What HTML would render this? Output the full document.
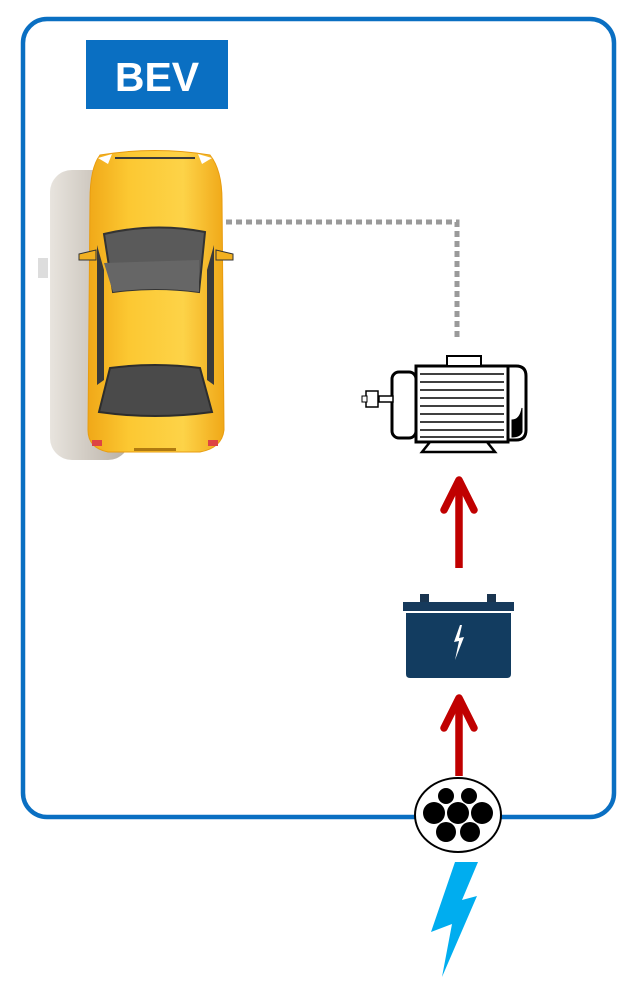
<!DOCTYPE html>
<html><head><meta charset="utf-8"><style>
html,body{margin:0;padding:0;background:#fff;width:632px;height:1000px;overflow:hidden}
svg{display:block}
</style></head><body>
<svg width="632" height="1000" viewBox="0 0 632 1000" xmlns="http://www.w3.org/2000/svg">
<defs>
<linearGradient id="sh" x1="0" x2="1"><stop offset="0" stop-color="#e8e4de"/><stop offset="1" stop-color="#b7afa4"/></linearGradient>
<linearGradient id="body" x1="0" x2="1"><stop offset="0" stop-color="#f0a818"/><stop offset="0.3" stop-color="#fcc832"/><stop offset="0.7" stop-color="#fdd348"/><stop offset="1" stop-color="#f0a818"/></linearGradient>
</defs>
<rect x="23" y="19" width="591" height="798" rx="24" fill="none" stroke="#0a6fc2" stroke-width="4.5"/>
<rect x="86" y="40" width="142" height="69" fill="#0a6fc2"/>
<text x="157" y="91" text-anchor="middle" font-family="Liberation Sans, sans-serif" font-weight="bold" font-size="41" fill="#fff">BEV</text>
<path d="M226 222 H457 V340" fill="none" stroke="#9a9a9a" stroke-width="5" stroke-dasharray="6 4"/>
<rect x="50" y="170" width="80" height="290" rx="22" fill="url(#sh)"/>
<rect x="38" y="258" width="10" height="20" fill="#ddd"/>
<path d="M100 155 Q155 146 210 155 Q222 170 222 200 L224 430 Q222 448 200 452 L108 452 Q88 448 88 430 L90 200 Q90 168 100 155Z" fill="url(#body)" stroke="#e89c10" stroke-width="1"/>
<path d="M98 158 L112 154 L108 164 Z M212 158 L198 154 L202 164 Z" fill="#fff"/>
<path d="M115 158 H195" stroke="#3a3a3a" stroke-width="2"/>
<path d="M104 234 Q155 222 205 232 L199 292 Q155 286 113 292 Z" fill="#5a5a5a" stroke="#333" stroke-width="2"/>
<path d="M104 263 L199 260 L199 292 Q155 286 113 292 Z" fill="#666"/>
<path d="M97 245 L97 385 L104 380 L104 270 Z M214 245 L214 385 L207 380 L207 270 Z" fill="#3a3a3a"/>
<path d="M79 254 L96 250 L96 260 L79 260Z M233 254 L216 250 L216 260 L233 260Z" fill="#f2b020" stroke="#333" stroke-width="1"/>
<path d="M110 368 Q155 362 200 368 L212 412 Q155 420 99 412 Z" fill="#4a4a4a" stroke="#2d2d2d" stroke-width="2"/>
<rect x="92" y="440" width="10" height="6" fill="#d44"/><rect x="208" y="440" width="10" height="6" fill="#d44"/>
<rect x="134" y="448" width="42" height="3" fill="#b07a10"/>
<g stroke="#000" fill="#fff">
<rect x="392" y="372" width="24" height="66" rx="7" stroke-width="3"/>
<rect x="416" y="366" width="92" height="76" stroke-width="3"/>
<path d="M508 366 H516 Q526 366 526 376 V430 Q526 440 516 440 H508 Z" stroke-width="3"/>
<path d="M512 420 Q520 420 522 408 V432 Q520 437 512 437Z" fill="#000" stroke-width="1"/>
<rect x="447" y="356" width="34" height="10" stroke-width="2"/>
<rect x="379" y="396" width="14" height="6" stroke-width="1.5"/>
<rect x="366" y="391" width="12" height="16" stroke-width="1.5"/>
<rect x="362" y="396" width="5" height="6" stroke-width="1"/>
<path d="M430 442 L422 452 H495 L487 442Z" stroke-width="2.5"/>
</g>
<g stroke="#000" stroke-width="1.5">
<line x1="420" y1="374" x2="504" y2="374"/><line x1="420" y1="382" x2="504" y2="382"/><line x1="420" y1="390" x2="504" y2="390"/><line x1="420" y1="398" x2="504" y2="398"/><line x1="420" y1="406" x2="504" y2="406"/><line x1="420" y1="414" x2="504" y2="414"/><line x1="420" y1="422" x2="504" y2="422"/><line x1="420" y1="430" x2="504" y2="430"/><line x1="420" y1="437" x2="504" y2="437"/>
</g>
<g stroke="#c00000" stroke-width="7.5" fill="none" stroke-linejoin="round">
<path d="M459 568 V482"/><path d="M444 510 L459 480 L474 510" stroke-linecap="round"/>
<path d="M459 776 V700"/><path d="M444 728 L459 698 L474 728" stroke-linecap="round"/>
</g>
<rect x="420" y="594" width="9" height="9" fill="#1a3550"/>
<rect x="487" y="594" width="9" height="9" fill="#1a3550"/>
<rect x="403" y="602" width="111" height="9" fill="#163a5c"/>
<path d="M406 613 H511 V674 Q511 678 507 678 H410 Q406 678 406 674Z" fill="#123c60"/>
<path d="M460 625 L454 642 L459 641 L455 660 L464 637 L459 638 L462 625Z" fill="#fff"/>
<ellipse cx="458" cy="815" rx="43" ry="37" fill="#fff" stroke="#000" stroke-width="2"/>
<g fill="#000">
<circle cx="446" cy="796" r="8"/><circle cx="469" cy="796" r="8"/>
<circle cx="434" cy="813" r="11"/><circle cx="458" cy="813" r="11"/><circle cx="482" cy="813" r="11"/>
<circle cx="446" cy="832" r="10"/><circle cx="470" cy="832" r="10"/>
</g>
<path d="M455 862 L478 862 L462 900 L477 896 L442 977 L452 924 L431 932Z" fill="#00adef"/>
</svg>
</body></html>
